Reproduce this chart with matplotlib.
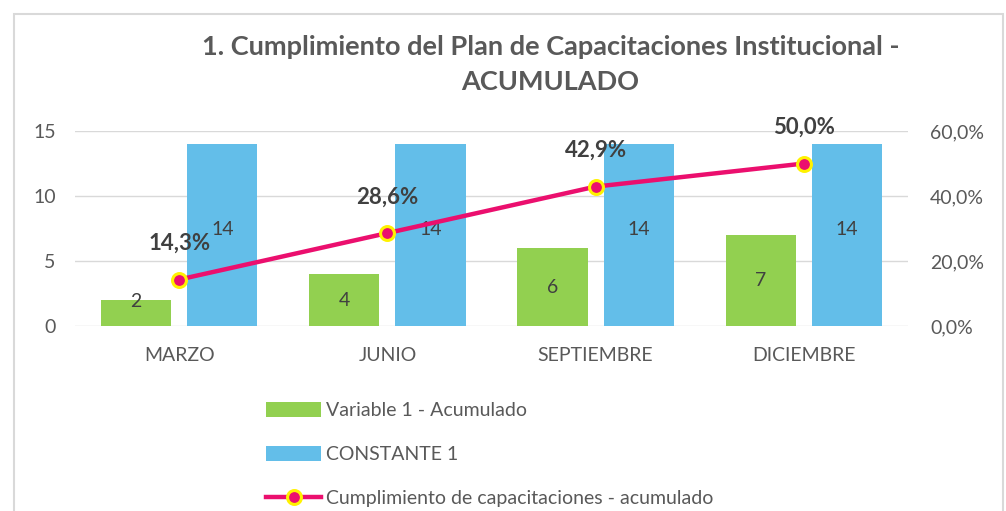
import matplotlib.pyplot as plt
from matplotlib.patches import Rectangle
import numpy as np

plt.rcParams['font.family'] = ['Lato', 'DejaVu Sans']

meses = ['MARZO', 'JUNIO', 'SEPTIEMBRE', 'DICIEMBRE']
variable1 = [2, 4, 6, 7]
constante1 = [14, 14, 14, 14]
cumplimiento = [0.143, 0.286, 0.429, 0.500]

gris = '#595959'
verde = '#92D050'
azul = '#63BEE9'
rosa = '#EB0F6E'

fig = plt.figure(figsize=(10.06, 5.11), dpi=100)
ax = fig.add_axes([0.0746, 0.362, 0.828, 0.3816])
ax2 = ax.twinx()

x = np.arange(len(meses))
w = 0.337
off = 0.207
b1 = ax.bar(x - off, variable1, w, color=verde, label='Variable 1 - Acumulado', zorder=2)
b2 = ax.bar(x + off, constante1, w, color=azul, label='CONSTANTE 1', zorder=2)

# etiquetas de las barras
for xi, v in zip(x, variable1):
    ax.text(xi - off, max(v / 2, 1.9), str(v), ha='center', va='center', fontsize=14, color='#404040', zorder=3)
for xi, v in zip(x, constante1):
    ax.text(xi + off, v / 2 + 0.4, str(v), ha='center', va='center', fontsize=14, color='#404040', zorder=3)

ax.set_ylim(0, 15)
ax.set_yticks([0, 5, 10, 15])
ax.set_xlim(-0.5, 3.5)
ax.set_xticks(x)
ax.set_xticklabels(meses)
ax.grid(axis='y', color='#D9D9D9', linewidth=1, zorder=0)
ax.set_axisbelow(True)
for s in ax.spines.values():
    s.set_visible(False)
for s in ax2.spines.values():
    s.set_visible(False)
ax.tick_params(length=0, labelsize=14, colors=gris, pad=14)
ax.tick_params(axis='x', pad=15)

ln, = ax2.plot(x, cumplimiento, color=rosa, linewidth=3.2, marker='o', markersize=10,
               markerfacecolor=rosa, markeredgecolor='#FFF200', markeredgewidth=2.2,
               label='Cumplimiento de capacitaciones - acumulado', zorder=4)
ax2.set_ylim(0, 0.6)
ax2.set_yticks([0, 0.2, 0.4, 0.6])
ax2.set_yticklabels(['0,0%', '20,0%', '40,0%', '60,0%'])
ax2.tick_params(length=0, labelsize=14, colors=gris, pad=16)

for xi, p in zip(x, cumplimiento):
    ax2.annotate(f'{p*100:.1f}%'.replace('.', ','), (xi, p), xytext=(0, 26), textcoords='offset points',
                 ha='center', va='center', fontsize=16, fontweight='bold', color='#404040')

fig.text(0.547, 0.874, '1. Cumplimiento del Plan de Capacitaciones Institucional -\nACUMULADO',
         ha='center', va='center', fontsize=19.5, fontweight='bold', color=gris, linespacing=1.55)

fig.legend([b1, b2, ln], [b1.get_label(), b2.get_label(), ln.get_label()],
           loc='upper left', bbox_to_anchor=(0.247, 0.248), frameon=False,
           fontsize=14, labelcolor=gris, handlelength=2.85, handleheight=0.8,
           labelspacing=1.38, handletextpad=0.25)

# borde del grafico
fig.patches.append(Rectangle((14 / 1006, -0.05), 989 / 1006, 1.05 - 14 / 511, transform=fig.transFigure,
                             fill=False, edgecolor='#D9D9D9', linewidth=1.5))

fig.savefig('out.png', dpi=100)
